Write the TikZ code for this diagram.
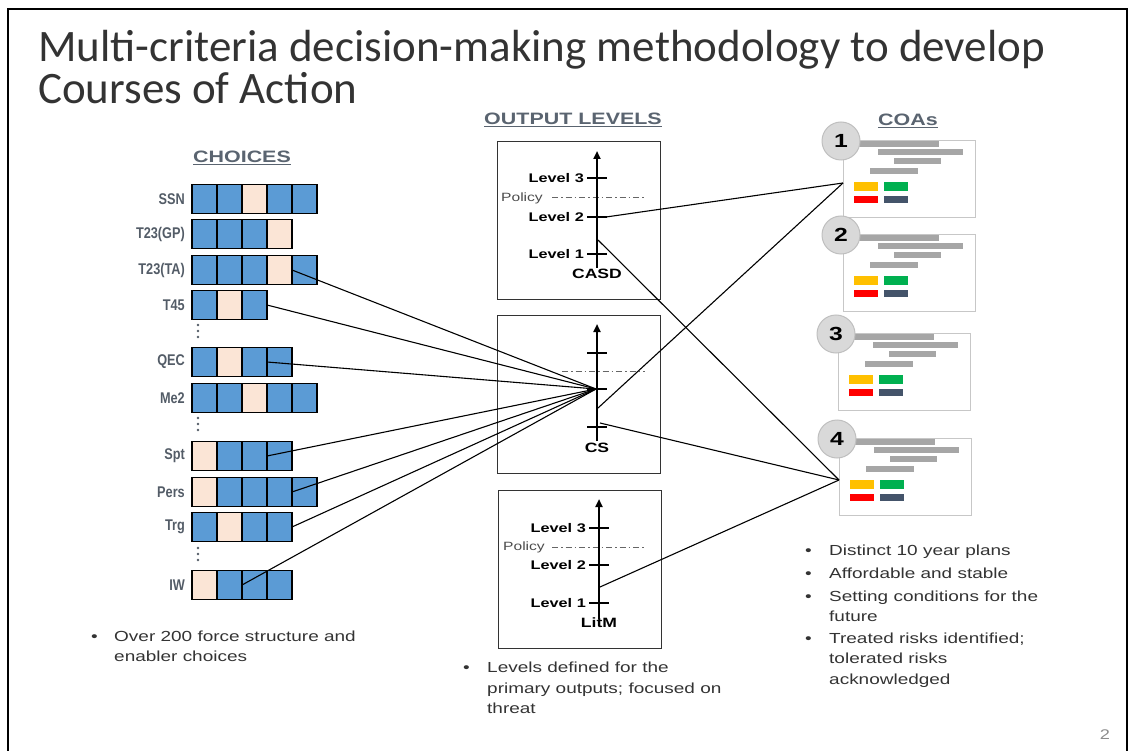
\documentclass[tikz,border=0pt]{standalone}
\usepackage{fontspec}
\setmainfont{Liberation Sans}[FakeStretch=1.3]
\newfontfamily\titlefont{Carlito}
\newfontfamily\labelfont{Liberation Sans}[FakeStretch=0.82]
\usetikzlibrary{arrows.meta,calc}

\definecolor{cellblue}{HTML}{5B9BD5}
\definecolor{cellpeach}{HTML}{FBE5D6}
\definecolor{headgray}{HTML}{5A6470}
\definecolor{labelgray}{HTML}{535C67}
\definecolor{bodytext}{HTML}{333333}
\definecolor{coabar}{HTML}{A6A6A6}
\definecolor{riskyellow}{HTML}{FFC000}
\definecolor{riskgreen}{HTML}{00B050}
\definecolor{riskred}{HTML}{FF0000}
\definecolor{riskslate}{HTML}{44546A}

% one row of choice cells: name, label, y of centre, list of fills
\newcommand\choicerow[4]{%
  \node[rowlabel] (#1-lab) at (185,#3) {#2};
  \foreach \c [count=\i] in {#4} {
    \node[cell,fill=\c] (#1-\i) at ({192+25*(\i-0.5)},#3) {};
  }
}
% vertical ellipsis
\newcommand\vdotsat[2]{%
  \foreach \d in {0,6,12} { \fill[labelgray] (#1,#2+\d) circle (1.3); }
}

\begin{document}
\begin{tikzpicture}[x=1pt,y=-1pt,
  cell/.style={draw=black, line width=1.1pt, minimum width=25pt, minimum height=29pt, inner sep=0, outer sep=0},
  rowlabel/.style={anchor=east, font=\labelfont\fontsize{15.5}{17}\selectfont\bfseries, text=labelgray, inner sep=0},
  heading/.style={anchor=base, font=\fontsize{16.5}{18}\selectfont\bfseries, text=headgray, inner sep=0},
  outbox/.style={draw=black!80, line width=0.9pt, minimum width=163pt, minimum height=158pt, anchor=north west, inner sep=0},
  levellabel/.style={anchor=east, font=\fontsize{12.5}{14}\selectfont\bfseries, inner sep=0},
  policylabel/.style={anchor=east, font=\fontsize{12}{14}\selectfont, text=black!70, inner sep=0},
  axisname/.style={font=\fontsize{13.5}{15}\selectfont\bfseries, inner sep=0},
  axisline/.style={line width=2.4pt, -{Triangle[length=8pt,width=7pt]}},
  tickline/.style={line width=2pt},
  policyline/.style={draw=black!60, line width=1pt, dash pattern=on 6pt off 3pt on 1.5pt off 3pt},
  link/.style={draw=black, line width=1.1pt},
  coabox/.style={draw=black!22, line width=1.2pt, minimum width=132pt, minimum height=77pt, anchor=north west, inner sep=0, fill=white},
  coanum/.style={circle, draw=black!25, fill=black!15, line width=1pt, minimum size=38pt, inner sep=0, font=\fontsize{19}{19}\selectfont\bfseries},
  bulletdot/.style={anchor=base west, font=\fontsize{14.6}{20.5}\selectfont, text=bodytext, inner sep=0},
  bullettext/.style={anchor=north west, align=left, font=\fontsize{14.6}{20.5}\selectfont, text=bodytext, inner sep=0},
]
\useasboundingbox (0,0) rectangle (1132,751);

% slide frame
\draw[line width=2pt] (8,751) -- (8,9) -- (1127,9) -- (1127,751);

% title
\node[anchor=base west, font=\titlefont\fontsize{45}{45}\selectfont, text=black!80, inner sep=0] (title1) at (38,62) {Multi-criteria decision-making methodology to develop};
\node[anchor=base west, font=\titlefont\fontsize{45}{45}\selectfont, text=black!80, inner sep=0] (title2) at (38,104) {Courses of Action};

% headings
\node[heading] (hchoices) at (242,163) {\underline{CHOICES}};
\node[heading] (houtput) at (573,125) {\underline{OUTPUT LEVELS}};
\node[heading] (hcoas) at (908,126) {\underline{COAs}};

% choices
\choicerow{ssn}{SSN}{199}{cellblue,cellblue,cellpeach,cellblue,cellblue}
\choicerow{tgp}{T23(GP)}{234}{cellblue,cellblue,cellblue,cellpeach}
\choicerow{tta}{T23(TA)}{270}{cellblue,cellblue,cellblue,cellpeach,cellblue}
\choicerow{t45}{T45}{305}{cellblue,cellpeach,cellblue}
\vdotsat{198}{325}
\choicerow{qec}{QEC}{362}{cellblue,cellpeach,cellblue,cellblue}
\choicerow{me2}{Me2}{398}{cellblue,cellblue,cellpeach,cellblue,cellblue}
\vdotsat{198}{418}
\choicerow{spt}{Spt}{456}{cellpeach,cellblue,cellblue,cellblue}
\choicerow{pers}{Pers}{492}{cellpeach,cellblue,cellblue,cellblue,cellblue}
\choicerow{trg}{Trg}{527}{cellblue,cellpeach,cellblue,cellblue}
\vdotsat{198}{548}
\choicerow{iw}{IW}{585}{cellpeach,cellblue,cellblue,cellblue}

\node[bulletdot] (bl0) at (91,641) {•};
\node[bullettext] (bl1) at (114,630.4) {Over 200 force structure and\\enabler choices};

% output level boxes
\node[outbox] (outA) at (497,141) {};
\node[outbox] (outB) at (497,315) {};
\node[outbox] (outC) at (498,490) {};

% CASD
\draw[policyline] (552,198) -- (645,198);
\draw[axisline] (597,268) -- (597,151);
\foreach \t in {178,217,254} \draw[tickline] (587,\t) -- (607,\t);
\node[levellabel] (a3) at (584,178) {Level 3};
\node[policylabel] (ap) at (543,198) {Policy};
\node[levellabel] (a2) at (584,217) {Level 2};
\node[levellabel] (a1) at (584,254) {Level 1};
\node[axisname] (casd) at (597,274) {CASD};

% CS
\draw[policyline] (562,371) -- (645,371);
\draw[axisline] (597,441) -- (597,324);
\foreach \t in {353,389,427} \draw[tickline] (587,\t) -- (607,\t);
\node[axisname] (cs) at (597,448) {CS};

% LitM
\draw[policyline] (552,547) -- (645,547);
\draw[axisline] (599,619) -- (599,499);
\foreach \t in {528,565,603} \draw[tickline] (589,\t) -- (609,\t);
\node[levellabel] (c3) at (586,528) {Level 3};
\node[policylabel] (cp) at (545,547) {Policy};
\node[levellabel] (c2) at (586,565) {Level 2};
\node[levellabel] (c1) at (586,603) {Level 1};
\node[axisname] (litm) at (599,623) {LitM};

\node[bulletdot] (bc0) at (463,672) {•};
\node[bullettext] (bc1) at (487,661.9) {Levels defined for the\\primary outputs; focused on\\threat};

% courses of action
\foreach \n/\bx/\by in {1/843/140, 2/843/234, 3/838/333, 4/839/438} {
  \node[coabox] (coa\n) at (\bx,\by) {};
  \begin{scope}[shift={(coa\n.north west)}]
    \fill[coabar] (14,1) rectangle (96,7);
    \fill[coabar] (35,9) rectangle (120,15);
    \fill[coabar] (51,18) rectangle (98,24);
    \fill[coabar] (27,28) rectangle (75,34);
    \fill[riskyellow] (11,42) rectangle (35,51);
    \fill[riskgreen] (41,42) rectangle (65,51);
    \fill[riskred] (11,56) rectangle (35,63);
    \fill[riskslate] (41,56) rectangle (65,63);
  \end{scope}
  \node[coanum] (num\n) at ($(coa\n.north west)+(-2,1)$) {\n};
}
\coordinate (coa1in) at ($(coa1.north west)+(0,43)$);
\coordinate (coa4in) at ($(coa4.north west)+(0,42)$);

\node[bulletdot] (br0) at (805,555) {•};
\node[bullettext] (br1) at (829,544.6) {Distinct 10 year plans};
\node[bulletdot] (br2) at (805,578) {•};
\node[bullettext] (br3) at (829,567.6) {Affordable and stable};
\node[bulletdot] (br4) at (805,601) {•};
\node[bullettext] (br5) at (829,590.6) {Setting conditions for the\\future};
\node[bulletdot] (br6) at (805,643) {•};
\node[bullettext] (br7) at (829,632.6) {Treated risks identified;\\tolerated risks\\acknowledged};

% connectors
\coordinate (hub) at (596,389);
\foreach \s in {tta-4,t45-3,qec-3,spt-3,pers-4,trg-4,iw-2}
  \draw[link] (\s.east) -- (hub);
\coordinate (casdL2) at (606,217);
\coordinate (casdLow) at (598,240);
\coordinate (csUp) at (598,408);
\coordinate (csLow) at (600,423);
\coordinate (litmMid) at (600,587);
\draw[link] (casdL2) -- (coa1in);
\draw[link] (casdLow) -- (coa4in);
\draw[link] (csUp) -- (coa1in);
\draw[link] (csLow) -- (coa4in);
\draw[link] (litmMid) -- (coa4in);

% page number
\node[font=\fontsize{14}{14}\selectfont, text=black!45, inner sep=0] (pagenum) at (1105,735) {2};
\end{tikzpicture}
\end{document}
